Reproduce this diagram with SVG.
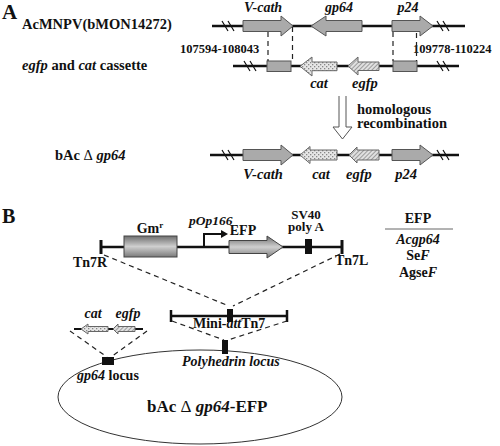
<svg xmlns="http://www.w3.org/2000/svg" width="500" height="446" viewBox="0 0 500 446">
<style>
text{font-family:"Liberation Serif","Times New Roman",serif;font-weight:bold;fill:#111}
.t{font-size:14.5px}
.s{font-size:14px}
.it{font-style:italic}
.ln{stroke:#111;stroke-width:2.6;fill:none}
.sl{stroke:#111;stroke-width:1.2;fill:none}
.gr{fill:#aaaaaa;stroke:#555;stroke-width:1}
.cat{fill:url(#dots);stroke:#666;stroke-width:1}
.egfp{fill:url(#hatch);stroke:#666;stroke-width:1}
.dash{stroke:#222;stroke-width:1.2;stroke-dasharray:5,4;fill:none}
.blk{fill:#111}
</style>
<defs>
<pattern id="dots" width="4" height="4" patternUnits="userSpaceOnUse">
<rect width="4" height="4" fill="#e6e6e6"/>
<rect x="0" y="0" width="1.3" height="1.3" fill="#888"/>
<rect x="2" y="2" width="1.3" height="1.3" fill="#888"/>
</pattern>
<pattern id="hatch" width="3" height="3" patternUnits="userSpaceOnUse" patternTransform="rotate(45)">
<rect width="3" height="3" fill="#e0e0e0"/>
<line x1="0" y1="0" x2="0" y2="3" stroke="#777" stroke-width="1.3"/>
</pattern>
<linearGradient id="cyl" x1="0" y1="0" x2="0" y2="1">
<stop offset="0" stop-color="#6e6e6e"/>
<stop offset="0.5" stop-color="#cfcfcf"/>
<stop offset="1" stop-color="#7a7a7a"/>
</linearGradient>
</defs>

<!-- Panel labels -->
<text x="2" y="19" style="font-size:21px">A</text>
<text x="2" y="223" style="font-size:20px">B</text>

<!-- Panel A row titles -->
<g id="row1-title"><text class="t" x="22" y="29">AcMNPV(bMON14272)</text></g>
<g id="row2-title"><text class="t" x="22" y="70"><tspan class="it">egfp</tspan> and <tspan class="it">cat</tspan> cassette</text></g>
<g id="row3-title"><text class="t" x="55" y="160">bAc <tspan style="font-weight:normal">Δ</tspan> <tspan class="it">gp64</tspan></text></g>

<!-- Row 1: AcMNPV -->
<g id="row1">
<line class="ln" x1="212" y1="26" x2="465" y2="26"/>
<path class="sl" d="M222,21 L228,31 M228,21 L234,31 M437,21 L443,31 M443,21 L449,31"/>
<path id="r1-vcath" class="gr" d="M243,20.5 H281 V16 L293,26 L281,36 V31.5 H243 Z"/>
<path id="r1-gp64" class="gr" d="M362,20.5 H326 V16 L311,26 L326,36 V31.5 H362 Z"/>
<path id="r1-p24" class="gr" d="M392,20.5 H420 V16 L433,26 L420,36 V31.5 H392 Z"/>
<text class="s it" x="263" y="12" text-anchor="middle">V-cath</text>
<text class="s it" x="339" y="12" text-anchor="middle">gp64</text>
<text class="s it" x="408" y="12" text-anchor="middle">p24</text>
<text x="180" y="53" style="font-size:12.5px">107594-108043</text>
<text x="413" y="53" style="font-size:12.5px">109778-110224</text>
</g>

<!-- Row 2: cassette -->
<g id="row2">
<line class="ln" x1="233" y1="66" x2="459" y2="66"/>
<path class="sl" d="M244,61 L250,71 M250,61 L256,71 M437,61 L443,71 M443,61 L449,71"/>
<rect class="gr" x="267" y="61" width="24" height="10.5"/>
<path id="r2-cat" class="cat" d="M337,62 H312 V57 L300,66.3 L312,76 V70.7 H337 Z"/>
<path id="r2-egfp" class="egfp" d="M379,62 H358 V57 L348,66 L358,75 V70.5 H379 Z"/>
<rect class="gr" x="393" y="61" width="24" height="10.5"/>
<text class="t it" x="319" y="88" text-anchor="middle">cat</text>
<text class="t it" x="365" y="88" text-anchor="middle">egfp</text>
</g>

<!-- connectors panel A -->
<g id="connectors-A">
<line class="dash" x1="268" y1="32" x2="268" y2="61" stroke-dasharray="4,3"/>
<line class="dash" x1="292.5" y1="27" x2="292.5" y2="61" stroke-dasharray="4,3"/>
<line class="dash" x1="393" y1="32" x2="393" y2="61" stroke-dasharray="4,3"/>
<line class="dash" x1="416.5" y1="33" x2="416.5" y2="61" stroke-dasharray="4,3"/>
<path d="M339,96 V127 H333 L342.5,139 L352,127 H346 V96" fill="#fff" stroke="#555" stroke-width="1"/>
</g>
<text class="t" x="357" y="114">homologous</text>
<text class="t" x="357" y="128">recombination</text>

<!-- Row 3: bAc delta gp64 -->
<g id="row3">
<line class="ln" x1="210" y1="155" x2="459" y2="155"/>
<path class="sl" d="M222,150 L228,160 M228,150 L234,160 M437,150 L443,160 M443,150 L449,160"/>
<path id="r3-vcath" class="gr" d="M243,149.5 H281 V145 L293,155 L281,165 V160.5 H243 Z"/>
<path id="r3-cat" class="cat" d="M337,150 H310 V146.5 L300,155 L310,163.5 V160 H337 Z"/>
<path id="r3-egfp" class="egfp" d="M379,150 H357 V147 L349,155 L357,163 V160 H379 Z"/>
<path id="r3-p24" class="gr" d="M392,149.5 H420 V145 L433,155 L420,165 V160.5 H392 Z"/>
<text class="t it" x="263" y="179" text-anchor="middle">V-cath</text>
<text class="t it" x="321" y="179" text-anchor="middle">cat</text>
<text class="t it" x="359" y="179" text-anchor="middle">egfp</text>
<text class="t it" x="406" y="179" text-anchor="middle">p24</text>
</g>

<!-- Panel B: donor construct -->
<g id="donor">
<line class="ln" x1="101" y1="247" x2="342" y2="247"/>
<line x1="101" y1="240" x2="101" y2="254" stroke="#111" stroke-width="3"/>
<line x1="342" y1="240" x2="342" y2="254" stroke="#111" stroke-width="3"/>
<rect id="gmr" x="124" y="236" width="53" height="21" fill="url(#cyl)" stroke="#444" stroke-width="1"/>
<path d="M204,247 V234 H222" fill="none" stroke="#111" stroke-width="2"/>
<path d="M221,230 L228,234 L221,238 Z" fill="#111"/>
<path id="efp" d="M229,240.5 H267 V236 L283,247 L267,258 V253.5 H229 Z" fill="url(#cyl)" stroke="#444" stroke-width="1"/>
<rect x="305" y="239" width="7" height="15" class="blk"/>
<text class="s" x="150" y="233" text-anchor="middle">Gm<tspan dy="-5" style="font-size:9px">r</tspan></text>
<text class="it" x="189" y="225" style="font-size:13.5px">pOp166</text>
<text class="s" x="243" y="235" text-anchor="middle">EFP</text>
<text x="306" y="219" text-anchor="middle" style="font-size:13px">SV40</text>
<text x="306" y="231" text-anchor="middle" style="font-size:13px">poly A</text>
<text class="s" x="73" y="267">Tn7R</text>
<text class="s" x="335" y="265">Tn7L</text>
</g>

<!-- EFP table -->
<g id="efp-table">
<text class="s" x="418" y="223" text-anchor="middle">EFP</text>
<line x1="385" y1="229" x2="453" y2="229" stroke="#666" stroke-width="1"/>
<text class="s it" x="418" y="244" text-anchor="middle">Acgp64</text>
<text class="s" x="418" y="260" text-anchor="middle">Se<tspan class="it">F</tspan></text>
<text class="s" x="418" y="277" text-anchor="middle">Agse<tspan class="it">F</tspan></text>
</g>

<!-- Mini-attTn7 -->
<g id="mini">
<line class="ln" x1="171" y1="316" x2="287" y2="316"/>
<line x1="171" y1="310" x2="171" y2="322" stroke="#111" stroke-width="2.5"/>
<line x1="287" y1="310" x2="287" y2="322" stroke="#111" stroke-width="2.5"/>
<rect x="227" y="309" width="6" height="13" class="blk"/>
<text class="s" x="193" y="328">Mini-<tspan class="it">att</tspan>Tn7</text>
</g>

<!-- small cat/egfp -->
<g id="small-cassette">
<line x1="74" y1="329" x2="143" y2="329" stroke="#111" stroke-width="2"/>
<path class="cat" d="M108,326.5 H88 V324 L81,329 L88,334 V331.5 H108 Z"/>
<path class="egfp" d="M135,326.5 H118 V324 L113,329 L118,334 V331.5 H135 Z"/>
<text class="s it" x="93" y="318" text-anchor="middle">cat</text>
<text class="s it" x="128" y="318" text-anchor="middle">egfp</text>
</g>

<!-- Genome ellipse -->
<g id="genome">
<ellipse cx="200" cy="397" rx="142" ry="47" fill="none" stroke="#333" stroke-width="1"/>
<rect x="102" y="357" width="12" height="8" class="blk"/>
<rect x="222" y="340" width="6" height="14" class="blk"/>
<text class="s" x="77" y="380"><tspan class="it">gp64</tspan> locus</text>
<text class="s it" x="182" y="366">Polyhedrin locus</text>
<text x="147" y="412" style="font-size:17px">bAc <tspan style="font-weight:normal">Δ</tspan> <tspan class="it">gp64</tspan>-EFP</text>
</g>

<!-- connectors panel B -->
<g id="connectors-B">
<line class="dash" x1="104" y1="255" x2="229" y2="306"/>
<line class="dash" x1="340" y1="254" x2="233" y2="306"/>
<line class="dash" x1="172" y1="321" x2="224" y2="340"/>
<line class="dash" x1="287" y1="321" x2="228" y2="340"/>
<line class="dash" x1="70" y1="331" x2="107" y2="357"/>
<line class="dash" x1="147" y1="331" x2="111" y2="357"/>
</g>
</svg>
